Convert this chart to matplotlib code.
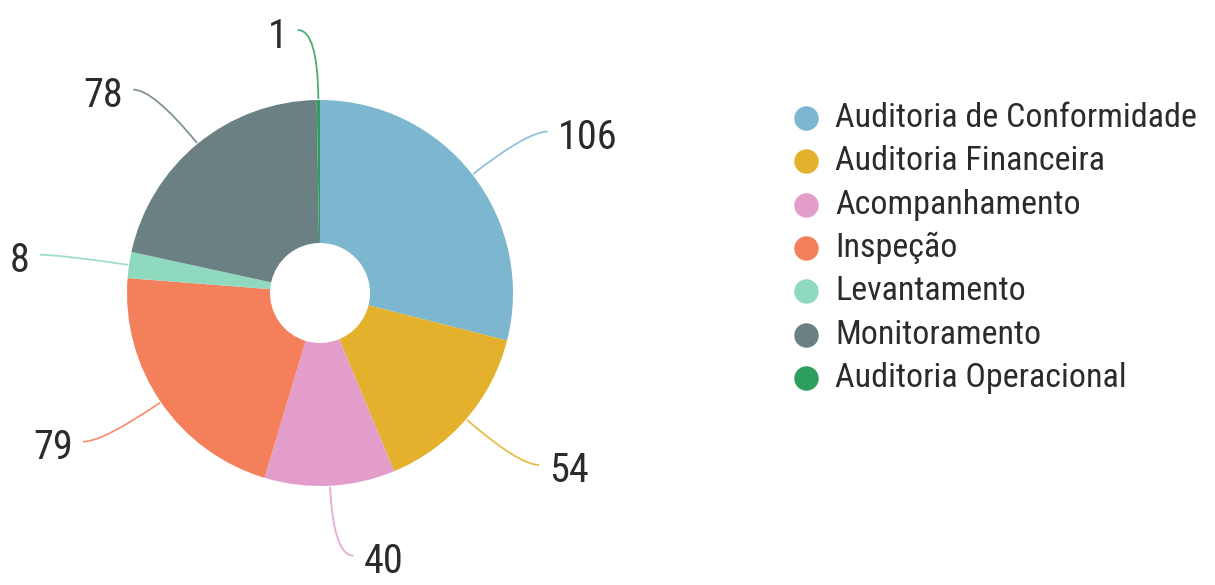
import numpy as np
import matplotlib.pyplot as plt
from matplotlib.path import Path
from matplotlib.patches import PathPatch

categories = ["Auditoria de Conformidade", "Auditoria Financeira", "Acompanhamento",
              "Inspeção", "Levantamento", "Monitoramento", "Auditoria Operacional"]
values = [106, 54, 40, 79, 8, 78, 1]
colors = ["#7db7cf", "#e3b12c", "#e29dcb", "#f47f5b", "#8fd9bf", "#6a8083", "#2e9e5e"]

plt.rcParams['font.family'] = ['Roboto Condensed', 'Liberation Sans Narrow', 'Roboto', 'DejaVu Sans']

W, H = 1215, 585
fig = plt.figure(figsize=(W / 100, H / 100), dpi=100)
ax = fig.add_axes([0, 0, 1, 1])

cx, cy = 320, H - 293
R = 193
hole = 50

wedges, _ = ax.pie(values, colors=colors, startangle=90, counterclock=False,
                   radius=R, center=(cx, cy),
                   wedgeprops=dict(width=R - hole, linewidth=0))
ax.set_xlim(0, W)
ax.set_ylim(0, H)
ax.axis('off')

# leader lines + value labels
for w, v, c in zip(wedges, values, colors):
    ang = np.deg2rad((w.theta1 + w.theta2) / 2)
    ca, sa = np.cos(ang), np.sin(ang)
    side = 1 if ca >= 0 else -1
    p0 = (cx + (R + 1) * ca, cy + (R + 1) * sa)
    p1 = (cx + (R + 70) * ca, cy + (R + 70) * sa)
    p2 = (p1[0] + side * 20, p1[1])
    path = Path([p0, p1, p2], [Path.MOVETO, Path.CURVE3, Path.CURVE3])
    ax.add_patch(PathPatch(path, fill=False, edgecolor=c, lw=1.3, alpha=0.85))
    ax.text(p2[0] + side * 10, p2[1] - 6, str(v), ha='left' if side > 0 else 'right',
            va='center', fontsize=29, color='#2b2b2b')

# legend
ly0, dy = H - 118, 43.3
for i, (name, c) in enumerate(zip(categories, colors)):
    y = ly0 - i * dy
    ax.scatter([806], [y], s=310, color=c, linewidths=0)
    ax.text(835, y, name, ha='left', va='center', fontsize=24.5, color='#2b2b2b')

fig.savefig("out.png", dpi=100)
